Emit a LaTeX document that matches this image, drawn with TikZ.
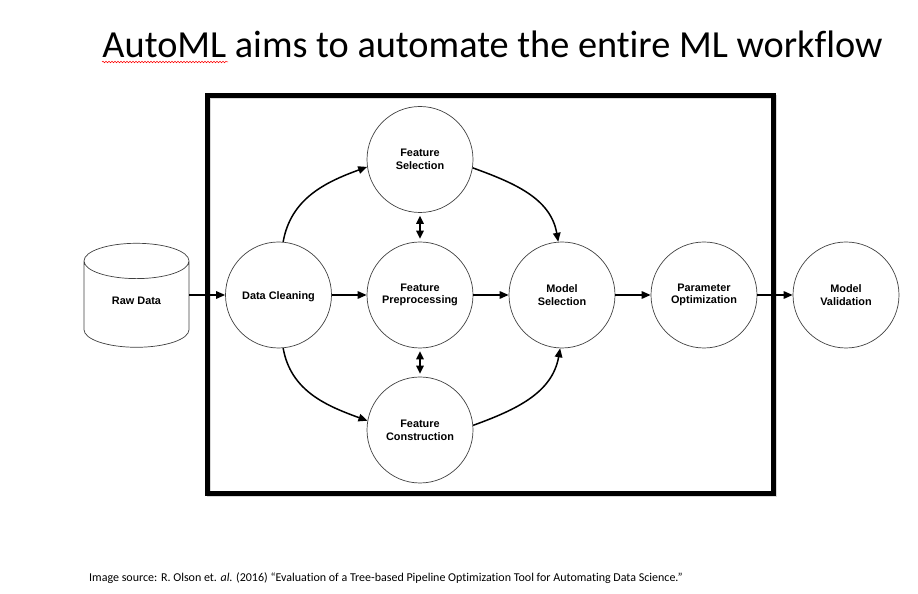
\documentclass[tikz,border=0pt]{standalone}
\usepackage{fontspec}
\setmainfont{Carlito}[Ligatures=NoCommon]
\setsansfont{Liberation Sans}
\usetikzlibrary{arrows.meta,shapes.geometric,decorations.pathmorphing}

\begin{document}
\begin{tikzpicture}[x=1pt,y=1pt,
    stage/.style={circle, draw=black!75, line width=0.7pt, minimum size=106pt, inner sep=0pt,
        align=center, font=\sffamily\bfseries\fontsize{10.9}{12.7}\selectfont,
        execute at begin node={\rule{0pt}{12pt}}},
    store/.style={cylinder, shape border rotate=90, aspect=0.72, draw=black!75, line width=0.7pt,
        minimum width=105pt, minimum height=104pt, inner sep=0pt,
        font=\sffamily\bfseries\fontsize{10.9}{13}\selectfont},
    flow/.style={line width=1.5pt, -{Triangle[length=9pt,width=7.5pt]}},
    swap/.style={line width=1.5pt, {Triangle[length=8pt,width=7.5pt]}-{Triangle[length=8pt,width=7.5pt]},
        shorten >=3pt, shorten <=3pt}
]
\useasboundingbox (0,0) rectangle (918,594);

% Title
\node[anchor=base, font=\fontsize{38.3}{42}\selectfont] (title) at (492.5,536) {AutoML aims to automate the entire ML workflow};
\draw[red, line width=0.5pt, decorate, decoration={snake, amplitude=0.8pt, segment length=3pt}] (102,532) -- (228,532);

% Pipeline frame
\draw[black!15, line width=4.5pt] (209,99) rectangle (775,497);
\draw[line width=4.5pt] (207.5,100.5) rectangle (773.5,498.5);

% Stages
\node[store] (raw) at (136.5,289.7) {\raisebox{8pt}{Raw Data}};
\node[stage] (clean) at (278.5,299) {Data Cleaning};
\node[stage] (fsel) at (420,434.5) {Feature\\Selection};
\node[stage] (fpre) at (420,299) {Feature\\Preprocessing};
\node[stage] (fcon) at (420,164) {Feature\\Construction};
\node[stage] (msel) at (562,299) {Model\\Selection};
\node[stage] (popt) at (704,299) {Parameter\\Optimization};
\node[stage] (mval) at (846,299) {Model\\Validation};

% Straight flow
\draw[flow] (raw.east |- clean) -- (clean);
\draw[flow] (clean) -- (fpre);
\draw[flow] (fpre) -- (msel);
\draw[flow] (msel) -- (popt);
\draw[flow] (popt) -- (mval);

% Curved flow
\draw[flow] (clean.85) to[out=80,in=200] (fsel.188);
\draw[flow] (fsel.351) to[out=-20,in=100] (msel.94);
\draw[flow] (clean.275) to[out=-80,in=160] (fcon.170);
\draw[flow] (fcon.5) to[out=20,in=-100] (msel.268);

% Exchange between feature steps
\draw[swap] (fsel) -- (fpre);
\draw[swap] (fpre) -- (fcon);

% Source
\node[anchor=base west, inner sep=0pt, font=\fontsize{12}{14}\selectfont] (source) at (89,12)
    {Image source: R. Olson et. \textit{al.} (2016) “Evaluation of a Tree-based Pipeline Optimization Tool for Automating Data Science.”};

\end{tikzpicture}
\end{document}
